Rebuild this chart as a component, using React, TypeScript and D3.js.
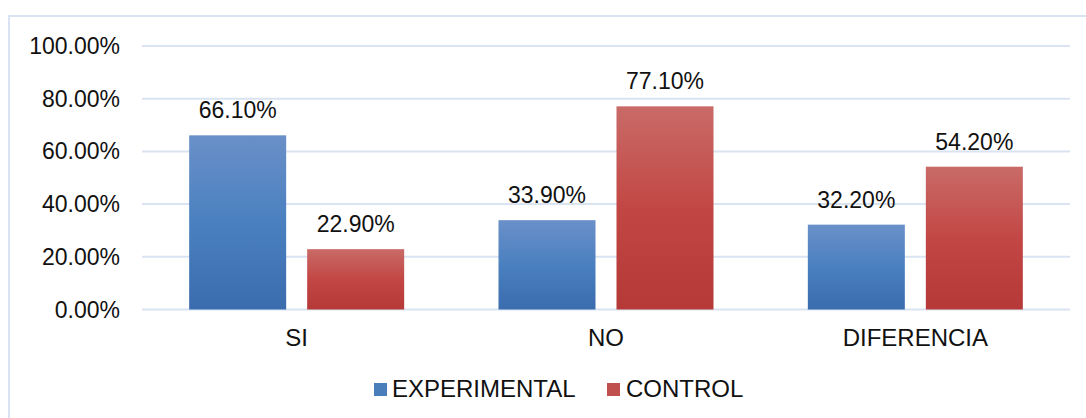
import React from "react";
import * as d3 from "d3";

const categories = ["SI", "NO", "DIFERENCIA"];
const seriesNames = ["EXPERIMENTAL", "CONTROL"];
const experimental = [66.1, 33.9, 32.2];
const control = [22.9, 77.1, 54.2];
const yTicks = [0, 20, 40, 60, 80, 100];

const W = 1086;
const H = 418;
const FONT = "'Liberation Sans', Arial, sans-serif";

const App: React.FC = () => {
  const left = 142;
  const right = 1070;
  const top = 46;
  const bottom = 309.5;

  const x = d3.scaleBand<string>().domain(categories).range([left, right]);
  const barW = 97;
  const gap = 21;
  const y = d3.scaleLinear().domain([0, 100]).range([bottom, top]);

  const series = [
    { name: seriesNames[0], values: experimental, fill: "url(#gBlue)", swatch: "#4a7ebb" },
    { name: seriesNames[1], values: control, fill: "url(#gRed)", swatch: "#c0504d" },
  ];

  return (
    <svg
      width={W}
      height={H}
      style={{ position: "absolute", left: 0, top: 0, background: "#fff" }}
      fontFamily={FONT}
    >
      <defs>
        <linearGradient id="gBlue" x1="0" y1="0" x2="0" y2="1">
          <stop offset="0" stopColor="#6a90c8" />
          <stop offset="0.5" stopColor="#4a80c0" />
          <stop offset="1" stopColor="#3a6cae" />
        </linearGradient>
        <linearGradient id="gRed" x1="0" y1="0" x2="0" y2="1">
          <stop offset="0" stopColor="#c96b68" />
          <stop offset="0.5" stopColor="#c24744" />
          <stop offset="1" stopColor="#b53a37" />
        </linearGradient>
      </defs>
      {/* frame */}
      <rect x={9} y={16} width={W + 20} height={H + 20} fill="none" stroke="#dae3f3" strokeWidth={2} />

      {yTicks.map((t) => (
        <g key={t}>
          <line x1={left} x2={right} y1={y(t)} y2={y(t)} stroke="#d9e3f2" strokeWidth={2} />
          <text x={120} y={y(t) + 8} textAnchor="end" fontSize={23} fill="#111">
            {t.toFixed(2)}%
          </text>
        </g>
      ))}

      {categories.map((c, i) => {
        const cx = (x(c) as number) + x.bandwidth() / 2;
        return (
          <g key={c}>
            {series.map((s, j) => {
              const bx = j === 0 ? cx - gap / 2 - barW : cx + gap / 2;
              const v = s.values[i];
              return (
                <g key={s.name}>
                  <rect x={bx} y={y(v)} width={barW} height={bottom - y(v)} fill={s.fill} />
                  <text x={bx + barW / 2} y={y(v) - 17} textAnchor="middle" fontSize={23} fill="#111">
                    {v.toFixed(2)}%
                  </text>
                </g>
              );
            })}
            <text x={cx} y={346} textAnchor="middle" fontSize={24} fill="#111">
              {c}
            </text>
          </g>
        );
      })}

      {/* legend */}
      <rect x={374} y={383} width={13} height={13} fill={series[0].swatch} />
      <text x={392} y={397} fontSize={24} fill="#111">{series[0].name}</text>
      <rect x={607} y={383} width={13} height={13} fill={series[1].swatch} />
      <text x={626} y={397} fontSize={24} fill="#111">{series[1].name}</text>
    </svg>
  );
};

export default App;
